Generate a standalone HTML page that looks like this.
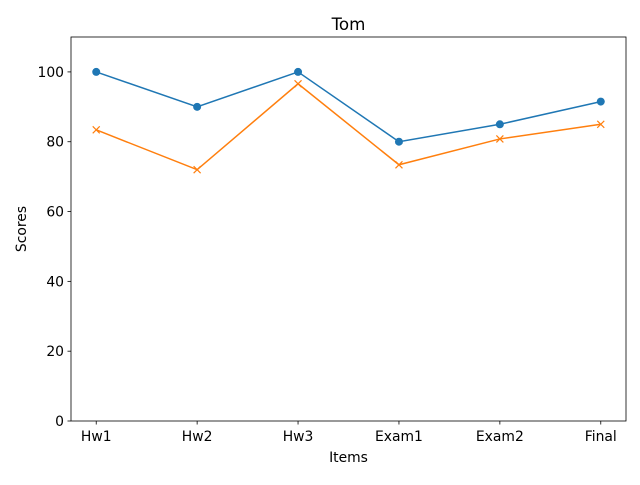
<!DOCTYPE html>
<html><head><meta charset="utf-8"><style>
body{margin:0;background:#fff;font-family:"Liberation Sans","DejaVu Sans",sans-serif;}
svg text{font-family:"DejaVu Sans","Liberation Sans",sans-serif;}
</style></head><body>
<svg id="chart" width="640" height="480" xmlns="http://www.w3.org/2000/svg"></svg>
<script>
const categories=["Hw1","Hw2","Hw3","Exam1","Exam2","Final"];
const seriesA=[100,90,100,80,85,91.5];
const seriesB=[83.4,72,96.6,73.4,80.8,85];
const yTicks=[0,20,40,60,80,100];
const L=71,R=626,T=37,B=421;
const xMin=-0.25,xMax=5.25,yMin=0,yMax=110;
const sx=i=>L+(i-xMin)/(xMax-xMin)*(R-L);
const sy=v=>B-(v-yMin)/(yMax-yMin)*(B-T);
const svg=document.getElementById('chart');
const NS="http://www.w3.org/2000/svg";
function mk(tag,attrs,parent){const e=document.createElementNS(NS,tag);for(const k in attrs)e.setAttribute(k,attrs[k]);(parent||svg).appendChild(e);return e;}
const frame=mk('rect',{x:L,y:T,width:R-L,height:B-T,fill:'none',stroke:'#000','stroke-width':0.8});


categories.forEach((c,i)=>{
  const x=sx(i);
  const t=mk('line',{x1:x,x2:x,y1:B,y2:B+3.5,stroke:'#000','stroke-width':0.8});
  
  
  const lb=mk('text',{x:x,y:B+20,'text-anchor':'middle','font-size':13.9,fill:'#000'});
  lb.textContent=c;
  
  
});
yTicks.forEach(v=>{
  const y=sy(v);
  const t=mk('line',{x1:L-3.5,x2:L,y1:y,y2:y,stroke:'#000','stroke-width':0.8});
  
  
  const lb=mk('text',{x:L-7,y:y+5,'text-anchor':'end','font-size':13.9,fill:'#000'});
  lb.textContent=v;
  
  
});
function drawSeries(vals,color,marker,name){
  const pts=vals.map((v,i)=>sx(i)+','+sy(v)).join(' ');
  const pl=mk('polyline',{points:pts,fill:'none',stroke:color,'stroke-width':1.5});
  
  
  vals.forEach((v,i)=>{
    const x=sx(i),y=sy(v);
    let m;
    if(marker==='o'){m=mk('circle',{cx:x,cy:y,r:4,fill:color});}
    else{m=mk('path',{d:`M${x-3.5},${y-3.5}L${x+3.5},${y+3.5}M${x-3.5},${y+3.5}L${x+3.5},${y-3.5}`,stroke:color,'stroke-width':1.2,fill:'none'});}
    
    
  });
}
drawSeries(seriesA,'#1f77b4','o','series-a');
drawSeries(seriesB,'#ff7f0e','x','series-b');
const title=mk('text',{x:(L+R)/2,y:30,'text-anchor':'middle','font-size':16.7,fill:'#000'});
title.textContent='Tom';


const xt=mk('text',{x:(L+R)/2,y:462,'text-anchor':'middle','font-size':13.9,fill:'#000'});
xt.textContent='Items';


const yt=mk('text',{x:26,y:(T+B)/2,'text-anchor':'middle','font-size':13.9,fill:'#000',transform:`rotate(-90 26 ${(T+B)/2})`});
yt.textContent='Scores';


</script>
</body></html>
